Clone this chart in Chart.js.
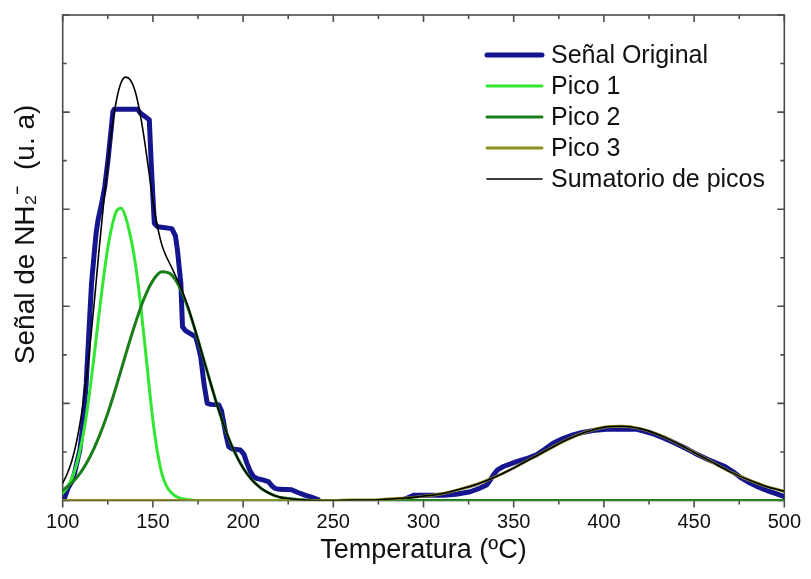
<!DOCTYPE html>
<html>
<head>
<meta charset="utf-8">
<script src="https://cdn.jsdelivr.net/npm/chart.js@4.4.1/dist/chart.umd.min.js"></script>
<style>
  html, body { margin: 0; padding: 0; background: #fff; }
</style>
</head>
<body>
<canvas id="tpdChart" width="811" height="579"></canvas>
<script>
// Temperatura (ºC) en el eje X
const xTickLabels = [100, 150, 200, 250, 300, 350, 400, 450, 500];

// Señal original (escalonada)
const origTemp = [100.5, 101.5, 103, 105, 106.5, 108, 109.5, 111, 113, 114, 115, 116, 117.5, 118.5, 119.6, 121.5, 123.3, 125.1, 127, 127.8,
  128.5, 141.5, 143, 148, 149, 149.9, 150.8, 152.5, 160.5, 162.5, 163.6, 165.5, 166.4, 168, 173.7, 175, 176.5, 178.3, 180.1, 182,
  186.5, 188, 189.3, 190.5, 192, 194, 198.5, 200.5, 202.1, 204, 205.8, 208, 211.3, 214, 216, 217.7, 220, 226.9, 230, 234.3,
  237, 241.6, 260, 287, 291, 294.8, 311.3, 318, 325.9, 331, 335, 337, 338.8, 341, 344.3, 351.6, 357, 362.6, 367, 371.8,
  377, 382.8, 388, 393.8, 403, 417.6, 422, 426.8, 433, 439.6, 445, 450.6, 458, 467.1, 472, 476.3, 481, 485.5, 490, 494.6, 500];
const origSignal = [0.0, 0.1, 0.26, 0.38, 0.55, 0.8, 1.04, 1.5, 2.4, 3.1, 3.8, 4.48, 5.1, 5.5, 5.78, 6.1, 6.46, 7.01, 7.7, 8.0,
  8.06, 8.06, 7.98, 7.84, 7.0, 6.33, 5.71, 5.64, 5.6, 5.45, 5.16, 4.47, 3.58, 3.5, 3.37, 3.2, 2.96, 2.41, 2.0, 1.98,
  1.97, 1.85, 1.59, 1.35, 1.11, 1.06, 1.04, 0.95, 0.77, 0.6, 0.49, 0.45, 0.42, 0.39, 0.3, 0.25, 0.23, 0.22, 0.17, 0.11,
  0.08, 0.02, null, 0.0, 0.05, 0.11, 0.11, 0.13, 0.18, 0.25, 0.32, 0.42, 0.53, 0.63, 0.70, 0.80, 0.86, 0.94, 1.05, 1.18,
  1.27, 1.35, 1.40, 1.44, 1.47, 1.47, 1.43, 1.38, 1.29, 1.18, 1.08, 0.97, 0.84, 0.70, 0.58, 0.46, 0.36, 0.28, 0.21, 0.15, 0.08];

// Pico 1
const p1Temp = [100, 102.5, 105, 107.5, 110, 112.5, 115, 117.5, 120, 122.5, 125, 127.5, 130, 132.5, 135, 137.5, 140, 142.5, 145, 147.5,
  150, 152.5, 155, 157.5, 160, 162.5, 165, 167.5, 170, 172.5, 175, 180, 500];
const p1Signal = [0.15, 0.27, 0.45, 0.72, 1.1, 1.6, 2.25, 3.0, 3.8, 4.55, 5.2, 5.68, 5.97, 6.02, 5.82, 5.45, 4.95, 4.25, 3.4, 2.5,
  1.65, 1.0, 0.55, 0.3, 0.17, 0.09, 0.05, 0.03, 0.015, 0.005, 0, 0, 0];

// Pico 2
const p2Temp = [100, 105, 110, 115, 120, 125, 130, 135, 140, 145, 150, 155, 160, 165, 170, 175, 180, 185, 190, 195,
  200, 205, 210, 215, 220, 225, 230, 235, 240, 500];
const p2Signal = [0.21, 0.36, 0.58, 0.89, 1.30, 1.80, 2.39, 3.02, 3.62, 4.15, 4.53, 4.71, 4.66, 4.38, 3.91, 3.31, 2.67, 2.04, 1.48, 1.02,
  0.67, 0.42, 0.25, 0.14, 0.07, 0.04, 0.02, 0.01, 0, 0];

// Pico 3
const p3Temp = [100, 250, 260, 270, 280, 290, 300, 310, 320, 330, 340, 350, 360, 370, 380, 390, 400, 410, 420, 430,
  440, 450, 460, 470, 480, 490, 500];
const p3Signal = [0, 0, 0.01, 0.01, 0.03, 0.05, 0.09, 0.14, 0.23, 0.34, 0.49, 0.67, 0.87, 1.07, 1.26, 1.41, 1.51, 1.53, 1.48, 1.36,
  1.19, 0.99, 0.79, 0.59, 0.43, 0.29, 0.19];

// Sumatorio de picos
const sumTemp = [100, 102.5, 105, 107.5, 110, 112.5, 115, 117.5, 120, 122.5, 125, 127.5, 130, 132.5, 135, 137.5, 140, 142.5, 145, 147.5,
  150, 152.5, 155, 157.5, 160, 162.5, 165, 167.5, 170, 172.5, 175, 180, 185, 190, 195, 200, 205, 210, 215, 220,
  225, 230, 235, 240, 250, 260, 270, 280, 290, 300, 310, 320, 330, 340, 350, 360, 370, 380, 390, 400,
  410, 420, 430, 440, 450, 460, 470, 480, 490, 500];
const sumSignal = [0.36, 0.55, 0.81, 1.18, 1.68, 2.33, 3.14, 4.08, 5.10, 6.05, 6.95, 7.72, 8.28, 8.62, 8.72, 8.66, 8.45, 8.05, 7.5, 6.85,
  6.18, 5.65, 5.26, 5.02, 4.83, 4.63, 4.43, 4.19, 3.93, 3.63, 3.31, 2.67, 2.04, 1.48, 1.02, 0.67, 0.42, 0.25, 0.14, 0.07,
  0.04, 0.02, 0.01, 0, 0, 0.01, 0.01, 0.03, 0.05, 0.09, 0.14, 0.23, 0.34, 0.49, 0.67, 0.87, 1.07, 1.26, 1.41, 1.51,
  1.53, 1.48, 1.36, 1.19, 0.99, 0.79, 0.59, 0.43, 0.29, 0.19];

const pts = (xs, ys) => xs.map((x, i) => ({x: x, y: ys[i]}));
const FONT = '"Liberation Sans", Arial, sans-serif';

// marco con ticks hacia dentro (abajo hacia fuera)
const frame = {
  id: 'frame',
  beforeDatasetsDraw(chart) {
    const {ctx, chartArea: a, scales: {x, y}} = chart;
    ctx.save();
    ctx.strokeStyle = '#4d4d4d';
    ctx.lineWidth = 1.6;
    ctx.strokeRect(a.left, a.top, a.right - a.left, a.bottom - a.top);
    ctx.beginPath();
    x.ticks.forEach(t => {
      const px = x.getPixelForValue(t.value);
      const len = t.value % 50 === 0 ? 7 : 4;
      ctx.moveTo(px, a.bottom); ctx.lineTo(px, a.bottom + len);
      ctx.moveTo(px, a.top); ctx.lineTo(px, a.top + len);
    });
    y.ticks.forEach(t => {
      const py = y.getPixelForValue(t.value);
      const len = t.value % 2 === 0 ? 7 : 4;
      ctx.moveTo(a.left, py); ctx.lineTo(a.left + len, py);
      ctx.moveTo(a.right, py); ctx.lineTo(a.right - len, py);
    });
    ctx.stroke();
    ctx.restore();
  }
};

// leyenda dentro del área del gráfico
const legendBox = {
  id: 'legendBox',
  afterDatasetsDraw(chart) {
    const {ctx} = chart;
    ctx.save();
    ctx.font = '25px ' + FONT;
    ctx.textBaseline = 'middle';
    ctx.lineCap = 'round';
    chart.data.datasets.forEach((ds, i) => {
      const yRow = 55 + i * 31;
      ctx.strokeStyle = ds.borderColor;
      ctx.lineWidth = ds.borderWidth;
      ctx.beginPath(); ctx.moveTo(487, yRow); ctx.lineTo(542, yRow); ctx.stroke();
      ctx.fillStyle = '#111';
      ctx.fillText(ds.label, 551, yRow + 1);
    });
    ctx.restore();
  }
};

new Chart(document.getElementById('tpdChart'), {
  type: 'line',
  data: {
    datasets: [
      {label: 'Señal Original', data: pts(origTemp, origSignal), borderColor: '#151590', borderWidth: 5, tension: 0, order: 4, spanGaps: false},
      {label: 'Pico 1', data: pts(p1Temp, p1Signal), borderColor: '#33e633', borderWidth: 3, cubicInterpolationMode: 'monotone', order: 3},
      {label: 'Pico 2', data: pts(p2Temp, p2Signal), borderColor: '#1a7d1a', borderWidth: 3, cubicInterpolationMode: 'monotone', order: 2},
      {label: 'Pico 3', data: pts(p3Temp, p3Signal), borderColor: '#8f8f22', borderWidth: 3, cubicInterpolationMode: 'monotone', order: 1},
      {label: 'Sumatorio de picos', data: pts(sumTemp, sumSignal), borderColor: '#000000', borderWidth: 1.6, cubicInterpolationMode: 'monotone', order: 0}
    ]
  },
  options: {
    responsive: false,
    animation: false,
    devicePixelRatio: 1,
    elements: {point: {radius: 0}, line: {borderJoinStyle: 'round', borderCapStyle: 'round', fill: false}},
    layout: {padding: {top: 15, right: 21, left: 0, bottom: 0}},
    plugins: {legend: {display: false}, tooltip: {enabled: false}},
    scales: {
      x: {
        type: 'linear', min: 100, max: 500,
        afterFit: s => { s.height = 78.5; },
        grid: {display: false, drawTicks: false},
        border: {display: false},
        ticks: {
          stepSize: 25, autoSkip: false, maxRotation: 0, padding: 10,
          color: '#111', font: {family: FONT, size: 20},
          callback: v => xTickLabels.includes(v) ? String(v) : ''
        },
        title: {display: true, text: 'Temperatura (ºC)', color: '#111', font: {family: FONT, size: 27}, padding: {top: 0, bottom: 12}}
      },
      y: {
        min: 0, max: 10,
        afterFit: s => { s.width = 62.7; },
        grid: {display: false, drawTicks: false},
        border: {display: false},
        ticks: {display: false, stepSize: 1},
        title: {display: true, text: '      Señal de NH₂⁻  (u. a)', color: '#111', font: {family: FONT, size: 28}, padding: {top: 9, bottom: 0}}
      }
    }
  },
  plugins: [frame, legendBox]
});
</script>
</body>
</html>
